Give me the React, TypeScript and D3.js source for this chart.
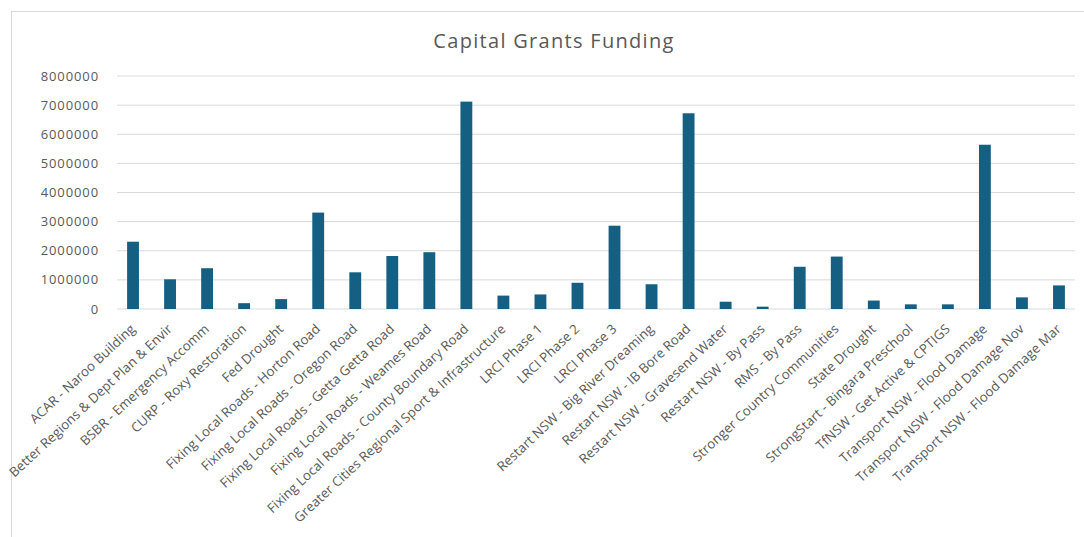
import React from "react";
import * as d3 from "d3";

const categories: string[] = [
  "ACAR - Naroo Building",
  "Better Regions & Dept Plan & Envir",
  "BSBR - Emergency Accomm",
  "CURP - Roxy Restoration",
  "Fed Drought",
  "Fixing Local Roads - Horton Road",
  "Fixing Local Roads - Oregon Road",
  "Fixing Local Roads - Getta Getta Road",
  "Fixing Local Roads - Weames Road",
  "Fixing Local Roads - County Boundary Road",
  "Greater Cities Regional Sport & Infrastructure",
  "LRCI Phase 1",
  "LRCI Phase 2",
  "LRCI Phase 3",
  "Restart NSW - Big River Dreaming",
  "Restart NSW - IB Bore Road",
  "Restart NSW - Gravesend Water",
  "Restart NSW - By Pass",
  "RMS - By Pass",
  "Stronger Country Communities",
  "State Drought",
  "StrongStart - Bingara Preschool",
  "TfNSW - Get Active & CPTIGS",
  "Transport NSW - Flood Damage",
  "Transport NSW - Flood Damage Nov",
  "Transport NSW - Flood Damage Mar",
];

const values: number[] = [
  2310000, 1020000, 1400000, 200000, 340000, 3310000, 1260000, 1820000,
  1950000, 7120000, 460000, 500000, 900000, 2860000, 850000, 6720000,
  250000, 80000, 1450000, 1800000, 290000, 160000, 160000, 5640000,
  400000, 810000,
];

const yTicks: number[] = [0, 1000000, 2000000, 3000000, 4000000, 5000000, 6000000, 7000000, 8000000];

const title = "Capital Grants Funding";

export default function App() {
  const W = 1084;
  const H = 537;
  const left = 114.5;
  const right = 1077.5;
  const top = 76;
  const bottom = 309;

  const x = d3.scaleBand<string>().domain(categories).range([left, right]).paddingInner(0.68).paddingOuter(0.34);
  const y = d3.scaleLinear().domain([0, 8000000]).range([bottom, top]);
  const font = "'Open Sans', 'Noto Sans', sans-serif";
  const textColor = "#595959";

  return (
    <svg width={W} height={H} style={{ position: "absolute", left: 0, top: 0, background: "#fff" }}>
      <rect x={0} y={0} width={W} height={H} fill="#fff" />
      <rect x={11.5} y={11.5} width={W + 10} height={H + 10} fill="#fff" stroke="#d9d9d9" strokeWidth={1} />
      <text x={554} y={48} textAnchor="middle" fontFamily={font} fontSize={20} fill={textColor} letterSpacing={1.3}>
        {title}
      </text>
      {yTicks.map((t) => (
        <g key={t}>
          <line x1={117} x2={1075} y1={y(t)} y2={y(t)} stroke="#d9d9d9" strokeWidth={1} />
          <text x={99} y={y(t)} dy="0.35em" textAnchor="end" fontFamily={font} fontSize={13} fill={textColor} letterSpacing={0.9}>
            {String(t)}
          </text>
        </g>
      ))}
      {categories.map((c, i) => (
        <rect key={c} x={x(c)} y={y(values[i])} width={x.bandwidth()} height={y(0) - y(values[i])} fill="#156082" />
      ))}
      {categories.map((c) => {
        const cx = (x(c) as number) + x.bandwidth() / 2 + 3;
        const cy = 330;
        return (
          <text key={"l" + c} x={cx} y={cy} transform={`rotate(-43, ${cx}, ${cy})`} textAnchor="end" fontFamily={font} fontSize={13.2} fill={textColor} letterSpacing={0.1}>
            {c}
          </text>
        );
      })}
    </svg>
  );
}
